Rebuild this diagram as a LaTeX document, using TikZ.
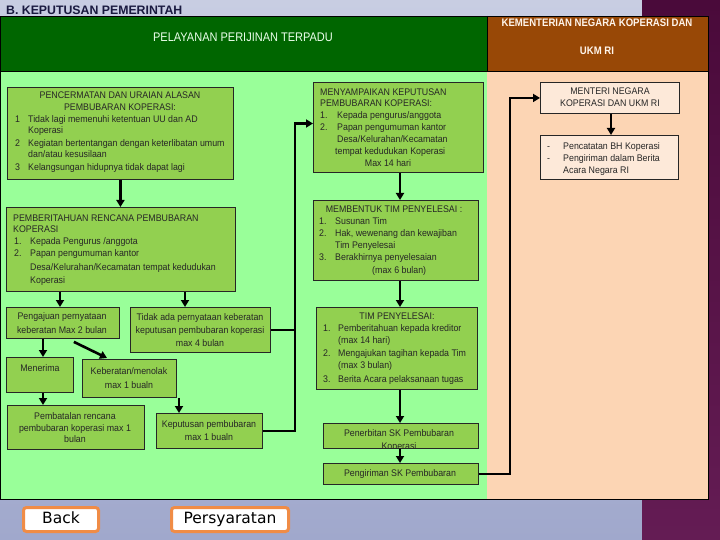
\documentclass[tikz,border=0pt]{standalone}
\usepackage{fontspec}
\setmainfont{Liberation Sans}
\newfontfamily\bx{Liberation Sans}[FakeStretch=0.92]
\newfontfamily\hx{Liberation Sans}[FakeStretch=0.88]
\newfontfamily\dv{DejaVu Sans}
\usetikzlibrary{arrows.meta}
\definecolor{bgtop}{RGB}{200,205,226}
\definecolor{bgbot}{RGB}{160,168,204}
\definecolor{purtop}{RGB}{74,10,58}
\definecolor{purbot}{RGB}{100,28,84}
\definecolor{dgreen}{RGB}{0,102,0}
\definecolor{brownh}{RGB}{152,72,6}
\definecolor{lgreen}{RGB}{153,255,153}
\definecolor{peach}{RGB}{252,213,180}
\definecolor{boxg}{RGB}{146,208,80}
\definecolor{boxp}{RGB}{253,233,217}
\definecolor{navy}{RGB}{26,26,64}
\definecolor{btnor}{RGB}{240,140,70}
\newcounter{tn}
\newcommand\Lt[3]{\stepcounter{tn}\node[txt,anchor=base west] (t\arabic{tn}) at (#1,#2) {#3};}
\newcommand\Ct[3]{\stepcounter{tn}\node[txt,anchor=base] (t\arabic{tn}) at (#1,#2) {#3};}
\begin{document}
\begin{tikzpicture}[x=1pt,y=-1pt,
  box/.style={draw=black!85, line width=0.9pt, fill=boxg, inner sep=0pt, anchor=north west},
  pbox/.style={box, fill=boxp},
  txt/.style={inner sep=0pt, font=\bx\fontsize{9.6}{11}\selectfont, text=black!85},
  arr/.style={line width=2.6pt, -{Triangle[length=7pt,width=8pt]}},
  ln/.style={line width=2.6pt},
  btn/.style={draw=btnor, line width=3pt, fill=white, rounded corners=3pt, inner sep=0pt, anchor=north west, text height=12pt, text depth=3.5pt, font=\dv\fontsize{15.5}{17}\selectfont}]
\useasboundingbox (0,0) rectangle (720,540);
% background
\shade[top color=bgtop, bottom color=bgbot] (0,0) rectangle (642,540);
\shade[top color=purtop, bottom color=purbot] (642,0) rectangle (720,540);
\node[anchor=base west, inner sep=0pt, font=\bfseries\fontsize{12.3}{14}\selectfont, text=navy] (title) at (6,14.5) {B. KEPUTUSAN PEMERINTAH};
% table
\fill[dgreen] (0,16) rectangle (487,71);
\fill[brownh] (487,16) rectangle (708,71);
\fill[lgreen] (0,71) rectangle (487,499);
\fill[peach] (487,71) rectangle (708,499);
\draw[black, line width=0.8pt] (0,16) rectangle (708,499);
\draw[black, line width=0.8pt] (0,71) -- (708,71);
\draw[black, line width=0.8pt] (487,16) -- (487,71);
\node[anchor=base, inner sep=0pt, font=\hx\fontsize{12.5}{14}\selectfont, text=green!8!white] (h1) at (243,42) {PELAYANAN PERIJINAN TERPADU};
\node[anchor=base, inner sep=0pt, font=\hx\bfseries\fontsize{10.9}{13}\selectfont, text=orange!8!white] (h2) at (597,26.5) {KEMENTERIAN NEGARA KOPERASI DAN};
\node[anchor=base, inner sep=0pt, font=\hx\bfseries\fontsize{10.9}{13}\selectfont, text=orange!8!white] (h3) at (597,54.5) {UKM RI};
% ---- left column boxes
\node[box, minimum width=226pt, minimum height=92pt] (A) at (7,87) {};
\Ct{120}{98.5}{PENCERMATAN DAN URAIAN ALASAN}
\Ct{120}{110.5}{PEMBUBARAN KOPERASI:}
\Lt{15}{122.5}{1}\Lt{28}{122.5}{Tidak lagi memenuhi ketentuan UU dan AD}
\Lt{28}{133.5}{Koperasi}
\Lt{15}{146.5}{2}\Lt{28}{146.5}{Kegiatan bertentangan dengan keterlibatan umum}
\Lt{28}{157.5}{dan/atau kesusilaan}
\Lt{15}{170.5}{3}\Lt{28}{170.5}{Kelangsungan hidupnya tidak dapat lagi}

\node[box, minimum width=229pt, minimum height=84pt] (B) at (6,207) {};
\Lt{13}{221.5}{PEMBERITAHUAN RENCANA PEMBUBARAN}
\Lt{13}{232.5}{KOPERASI}
\Lt{14}{244.5}{1.}\Lt{30}{244.5}{Kepada Pengurus /anggota}
\Lt{14}{256.5}{2.}\Lt{30}{256.5}{Papan pengumuman kantor}
\Lt{30}{270.5}{Desa/Kelurahan/Kecamatan tempat kedudukan}
\Lt{30}{283.5}{Koperasi}

\node[box, minimum width=113pt, minimum height=31pt] (C) at (6,307) {};
\Ct{62}{319.5}{Pengajuan pernyataan}
\Ct{62}{333.5}{keberatan Max 2 bulan}

\node[box, minimum width=140pt, minimum height=45pt] (D) at (130,307) {};
\Ct{200}{320.5}{Tidak ada pernyataan keberatan}
\Ct{200}{333.5}{keputusan pembubaran koperasi}
\Ct{200}{346.5}{max 4 bulan}

\node[box, minimum width=67pt, minimum height=35pt] (M) at (6,357) {};
\Ct{40}{371.5}{Menerima}

\node[box, minimum width=94pt, minimum height=38pt] (N) at (82,359) {};
\Ct{129}{374.5}{Keberatan/menolak}
\Ct{129}{388.5}{max 1 bualn}

\node[box, minimum width=137pt, minimum height=44pt] (O) at (7,405) {};
\Ct{75}{419.5}{Pembatalan rencana}
\Ct{75}{431.5}{pembubaran koperasi max 1}
\Ct{75}{442.5}{bulan}

\node[box, minimum width=106pt, minimum height=35pt] (H) at (156,413) {};
\Ct{209}{427.5}{Keputusan pembubaran}
\Ct{209}{440.5}{max 1 bualn}

% ---- middle column boxes
\node[box, minimum width=170pt, minimum height=90pt] (E) at (313,82) {};
\Lt{320}{95.5}{MENYAMPAIKAN KEPUTUSAN}
\Lt{320}{106.5}{PEMBUBARAN KOPERASI:}
\Lt{320}{118.5}{1.}\Lt{337}{118.5}{Kepada pengurus/anggota}
\Lt{320}{130.5}{2.}\Lt{337}{130.5}{Papan pengumuman kantor}
\Lt{337}{142.5}{Desa/Kelurahan/Kecamatan}
\Lt{335}{154.5}{tempat kedudukan Koperasi}
\Ct{388}{166.5}{Max 14 hari}

\node[box, minimum width=165pt, minimum height=80pt] (F) at (313,200) {};
\Ct{394}{212.5}{MEMBENTUK TIM PENYELESAI :}
\Lt{319}{224.5}{1.}\Lt{335}{224.5}{Susunan Tim}
\Lt{319}{236.5}{2.}\Lt{335}{236.5}{Hak, wewenang dan kewajiban}
\Lt{335}{248.5}{Tim Penyelesai}
\Lt{319}{260.5}{3.}\Lt{335}{260.5}{Berakhirnya penyelesaian}
\Lt{372}{273.5}{(max 6 bulan)}

\node[box, minimum width=161pt, minimum height=82pt] (G) at (316,307) {};
\Ct{397}{319.5}{TIM PENYELESAI:}
\Lt{323}{331.5}{1.}\Lt{338}{331.5}{Pemberitahuan kepada kreditor}
\Lt{338}{343.5}{(max 14 hari)}
\Lt{323}{356.5}{2.}\Lt{338}{356.5}{Mengajukan tagihan kepada Tim}
\Lt{338}{368.5}{(max 3 bulan)}
\Lt{323}{382.5}{3.}\Lt{338}{382.5}{Berita Acara pelaksanaan tugas}

\node[box, minimum width=155pt, minimum height=25pt] (I) at (323,423) {};
\Ct{399}{436.5}{Penerbitan SK Pembubaran}
\begin{scope}
\clip (323,423) rectangle (478,447.5);
\Ct{399}{449.5}{Koperasi}
\end{scope}

\node[box, minimum width=155pt, minimum height=21pt] (J) at (323,463) {};
\Ct{400}{476.5}{Pengiriman SK Pembubaran}

% ---- right column boxes
\node[pbox, minimum width=139pt, minimum height=31pt] (K) at (540,82) {};
\Ct{610}{95}{MENTERI NEGARA}
\Ct{610}{106.5}{KOPERASI DAN UKM RI}

\node[pbox, minimum width=138pt, minimum height=44pt] (L) at (540,135) {};
\Lt{547}{149.5}{-}\Lt{563}{149.5}{Pencatatan BH Koperasi}
\Lt{547}{161.5}{-}\Lt{563}{161.5}{Pengiriman dalam Berita}
\Lt{563}{173.5}{Acara Negara RI}

% ---- connector x positions
\coordinate (vBC) at (60,0);
\coordinate (vBD) at (185,0);
\coordinate (vCM) at (43,0);
\coordinate (vNH) at (179,0);
\coordinate (vL) at (295,0);
\coordinate (hE) at (0,123.5);
\coordinate (vE) at (400,0);
\coordinate (vR) at (510,0);
\coordinate (vK) at (611,0);

\draw[arr] (A.south) -- (A.south |- B.north);
\draw[arr] (B.south -| vBC) -- (C.north -| vBC);
\draw[arr] (B.south -| vBD) -- (D.north -| vBD);
\draw[arr] (C.south -| vCM) -- (M.north -| vCM);
\draw[arr] ([xshift=-46pt,yshift=-3pt]C.south east) -- ([xshift=25pt,yshift=1pt]N.north west);
\draw[arr] (M.south -| vCM) -- (O.north -| vCM);
\draw[arr] (N.south -| vNH) -- (H.north -| vNH);
\draw[ln] (D.east) -- (D.east -| vL);
\draw[arr] (H.east) -- (H.east -| vL) -- (vL |- hE) -- (E.west |- hE);
\draw[arr] (E.south -| vE) -- (F.north -| vE);
\draw[arr] (F.south -| vE) -- (G.north -| vE);
\draw[arr] (G.south -| vE) -- (I.north -| vE);
\draw[arr] (I.south -| vE) -- (J.north -| vE);
\draw[arr] (J.east) -- (J.east -| vR) -- (vR |- K.west) -- (K.west);
\draw[arr] (K.south -| vK) -- (L.north -| vK);

% buttons
\node[btn, minimum width=75pt, minimum height=24pt] (back) at (22,506) {Back};
\node[btn, minimum width=117pt, minimum height=24pt] (pers) at (170,506) {Persyaratan};
\end{tikzpicture}
\end{document}
